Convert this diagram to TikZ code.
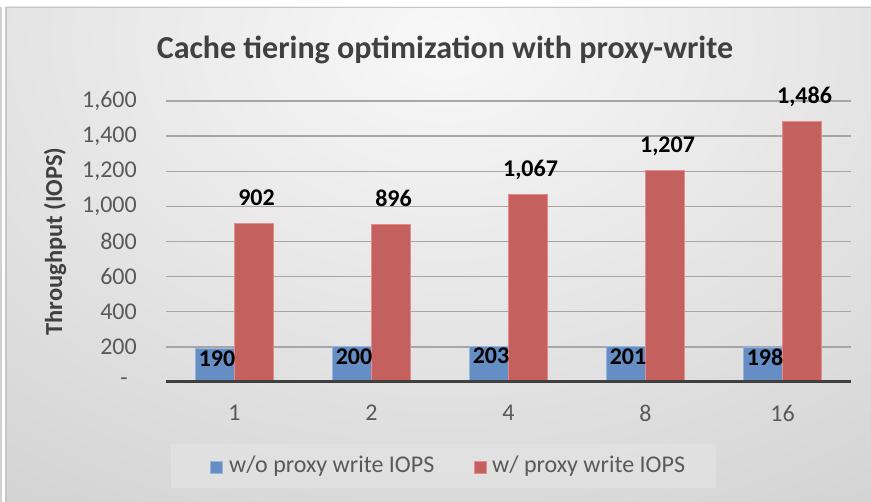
\documentclass[tikz,border=0pt]{standalone}
\usepackage{fontspec}
\setmainfont{Carlito}
\begin{document}
\begin{tikzpicture}[x=1pt,y=-1pt,
  tick/.style={text=tickgray,font=\fontsize{24}{28}\selectfont,inner sep=0pt},
  datalab/.style={text=black,font=\bfseries\fontsize{24}{28}\selectfont,inner sep=0pt},
  legtext/.style={text=tickgray,font=\fontsize{24}{28}\selectfont,inner sep=0pt,anchor=west},
  grid line/.style={draw=gridgray,line width=1.3pt},
  bluebar/.style={fill=barblue,draw=barblueedge,line width=0.8pt},
  redbar/.style={fill=barred,draw=barrededge,line width=0.8pt}]
\definecolor{tickgray}{HTML}{595959}
\definecolor{titlegray}{HTML}{404040}
\definecolor{gridgray}{HTML}{A6A6A6}
\definecolor{axisdark}{HTML}{404040}
\definecolor{barblue}{RGB}{101,142,196}
\definecolor{barblueedge}{RGB}{150,182,222}
\definecolor{barred}{RGB}{196,96,94}
\definecolor{barrededge}{RGB}{228,140,140}
\definecolor{bgout}{HTML}{C2C2C2}
\definecolor{bgin}{HTML}{F8F8F8}
\definecolor{legfill}{HTML}{E2E2E2}
\useasboundingbox (0,0) rectangle (871,502);
\fill[white] (0,0) rectangle (871,502);
\draw[draw=black!18,line width=1.5pt] (1,7) -- (1,502);
% chart area
\begin{scope}
  \clip (6,7) rectangle (871,502);
  \fill[bgout] (6,7) rectangle (871,502);
  \shade[inner color=bgin,outer color=bgout] (445,40) ellipse (1150 and 820);
\end{scope}
\draw[draw=black!22,line width=1.5pt] (6,502) -- (6,7.5) -- (871,7.5);
% title
\node[text=titlegray,font=\bfseries\fontsize{32}{36}\selectfont,inner sep=0pt] (title) at (445,50) {Cache tiering optimization with proxy-write};
% y-axis title
\node[text=titlegray,font=\bfseries\fontsize{24.5}{28}\selectfont,inner sep=0pt,rotate=90] (ytitle) at (55,241.5) {Throughput (IOPS)};
% gridlines and tick labels
\foreach \v/\t in {200/200,400/400,600/600,800/800,1000/{1,000},1200/{1,200},1400/{1,400},1600/{1,600}}{
  \pgfmathsetmacro\yy{382-\v*0.175625}
  \draw[grid line] (166,\yy) -- (851,\yy);
  \node[tick,anchor=east] (tk\v) at (137,\yy) {\t};
}
\node[tick,anchor=east] (tk0) at (128,382) {-};
% bars
\foreach \i/\c/\b/\r/\rl in {0/1/190/902/902, 1/2/200/896/896, 2/4/203/1067/{1,067}, 3/8/201/1207/{1,207}, 4/16/198/1486/{1,486}}{
  \pgfmathsetmacro\cx{166+137*(\i+0.5)}
  \pgfmathsetmacro\yb{382-\b*0.175625}
  \pgfmathsetmacro\yr{382-\r*0.175625}
  \draw[bluebar] (\cx-39,382) rectangle (\cx,\yb);
  \draw[redbar] (\cx,382) rectangle (\cx+39,\yr);
  \node[datalab,anchor=north] (bl\i) at (\cx-17.5,\yb+1.5) {\b};
  \node[datalab,anchor=base] (rl\i) at (\cx+22,\yr-18) {\rl};
  \node[tick] (x\i) at (\cx,413) {\c};
}
% axis line
\draw[draw=axisdark,line width=3pt] (166,382) -- (851,382);
% legend
\node[fill=legfill,fill opacity=0.85,minimum width=545pt,minimum height=44pt,inner sep=0pt] (legend) at (443.5,466) {};
\node[fill=barblue,draw=barblueedge,line width=0.8pt,minimum size=12pt,inner sep=0pt] (lb) at (216,467) {};
\node[legtext] (lbt) at (229,466) {w/o proxy write IOPS};
\node[fill=barred,draw=barrededge,line width=0.8pt,minimum size=12pt,inner sep=0pt] (lr) at (480,467) {};
\node[legtext] (lrt) at (492,466) {w/ proxy write IOPS};
\end{tikzpicture}
\end{document}
